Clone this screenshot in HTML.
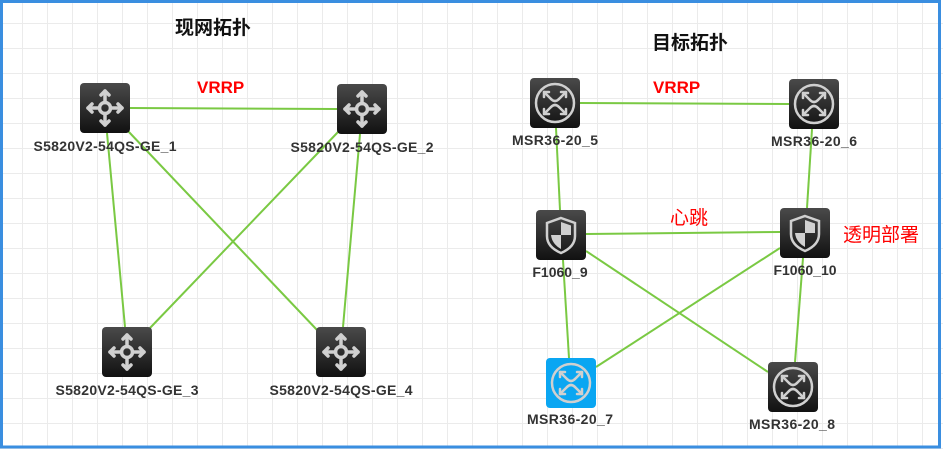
<!DOCTYPE html>
<html><head><meta charset="utf-8"><style>
html,body{margin:0;padding:0;background:#fff;}
svg{display:block}
text{font-family:"Liberation Sans","Noto Sans CJK SC",sans-serif;}
</style></head><body>
<svg width="943" height="449" viewBox="0 0 943 449" xmlns="http://www.w3.org/2000/svg">
<defs>
<pattern id="g" width="25" height="25" patternUnits="userSpaceOnUse" x="-2" y="-1">
<rect x="24" y="0" width="2" height="25" fill="#ebebeb"/>
<rect x="0" y="24" width="25" height="2" fill="#ebebeb"/>
</pattern>
<linearGradient id="dk" x1="0" y1="0" x2="0" y2="1"><stop offset="0" stop-color="#4a4a4a"/><stop offset="1" stop-color="#111"/></linearGradient>
<symbol id="sw" viewBox="0 0 50 50">
<rect width="50" height="50" rx="4" fill="url(#dk)"/>
<g stroke="#d0d0d0" stroke-width="3.5" fill="none" stroke-linecap="round" stroke-linejoin="round">
<circle cx="25" cy="25" r="5.5"/>
<path d="M25 19.5V8M25 30.5V42M19.5 25H8M30.5 25H42"/>
<path d="M21 12l4-4 4 4M21 38l4 4 4-4M12 21l-4 4 4 4M38 21l4 4-4 4"/>
</g>
</symbol>
<symbol id="rt" viewBox="0 0 50 50">
<g stroke="#d0d0d0" stroke-width="2.5" fill="none" stroke-linecap="round" stroke-linejoin="round">
<circle cx="25" cy="25" r="19"/>
<path d="M14 14l7 7M36 14l-7 7M14 36l7-7M36 36l-7-7"/>
<path d="M14 19v-5h5M36 19v-5h-5M14 31v5h5M36 31v5h-5"/>
<path d="M21 21q4 4 8 0M21 29q4-4 8 0"/>
</g>
</symbol>
<symbol id="fw" viewBox="0 0 50 50">
<rect width="50" height="50" rx="4" fill="url(#dk)"/>
<path d="M25 8 L39 13 V26 Q39 37 25 43 Q11 37 11 26 V13 Z" fill="none" stroke="#d0d0d0" stroke-width="2.5"/>
<path d="M25 12 L35 15.5 V25 H25 Z" fill="#d0d0d0"/>
<path d="M25 25 H15 Q16 34 25 39 Z" fill="#d0d0d0"/>
</symbol>
</defs>
<rect width="943" height="449" fill="#fff"/>
<rect width="943" height="449" fill="url(#g)"/>
<rect x="1.5" y="1.5" width="938" height="445.5" fill="none" stroke="#3a8ee0" stroke-width="3"/>

<g stroke="#7ac943" stroke-width="2" fill="none">
<line x1="130" y1="108" x2="337" y2="109"/>
<line x1="107" y1="133" x2="125" y2="327"/>
<line x1="128" y1="131" x2="318" y2="331"/>
<line x1="339" y1="131" x2="150" y2="328"/>
<line x1="360" y1="134" x2="343" y2="327"/>
<line x1="580" y1="103" x2="789" y2="104"/>
<line x1="556" y1="128" x2="560" y2="210"/>
<line x1="812" y1="129" x2="807" y2="208"/>
<line x1="586" y1="234" x2="780" y2="232"/>
<line x1="563" y1="260" x2="569" y2="358"/>
<line x1="586" y1="251" x2="768" y2="372"/>
<line x1="780" y1="248" x2="596" y2="367"/>
<line x1="803" y1="258" x2="795" y2="362"/>
</g>

<use href="#sw" x="80" y="83" width="50" height="50"/>
<use href="#sw" x="337" y="84" width="50" height="50"/>
<use href="#sw" x="102" y="327" width="50" height="50"/>
<use href="#sw" x="316" y="327" width="50" height="50"/>

<rect x="530" y="78" width="50" height="50" rx="4" fill="url(#dk)"/><use href="#rt" x="530" y="78" width="50" height="50"/>
<rect x="789" y="79" width="50" height="50" rx="4" fill="url(#dk)"/><use href="#rt" x="789" y="79" width="50" height="50"/>
<rect x="546" y="358" width="50" height="50" rx="4" fill="#0aa6f2"/><use href="#rt" x="546" y="358" width="50" height="50"/>
<rect x="768" y="362" width="50" height="50" rx="4" fill="url(#dk)"/><use href="#rt" x="768" y="362" width="50" height="50"/>
<use href="#fw" x="536" y="210" width="50" height="50"/>
<use href="#fw" x="780" y="208" width="50" height="50"/>

<g font-size="14" font-weight="bold" fill="#333" text-anchor="middle">
<text x="105" y="151" textLength="143">S5820V2-54QS-GE_1</text>
<text x="362" y="152" textLength="143">S5820V2-54QS-GE_2</text>
<text x="127" y="395" textLength="143">S5820V2-54QS-GE_3</text>
<text x="341" y="395" textLength="143">S5820V2-54QS-GE_4</text>
<text x="555" y="145" textLength="86">MSR36-20_5</text>
<text x="814" y="146" textLength="86">MSR36-20_6</text>
<text x="560" y="277">F1060_9</text>
<text x="805" y="275">F1060_10</text>
<text x="570" y="424" textLength="86">MSR36-20_7</text>
<text x="792" y="429" textLength="86">MSR36-20_8</text>
</g>
<g font-size="19" font-weight="bold" fill="#111">
<text x="175" y="34">现网拓扑</text>
<text x="652" y="49">目标拓扑</text>
</g>
<g fill="#f00" font-weight="bold" font-size="17">
<text x="197" y="93">VRRP</text>
<text x="653" y="93">VRRP</text>
</g>
<g fill="#f00" font-size="19">
<text x="670" y="224">心跳</text>
<text x="843" y="241">透明部署</text>
</g>
</svg>
</body></html>
